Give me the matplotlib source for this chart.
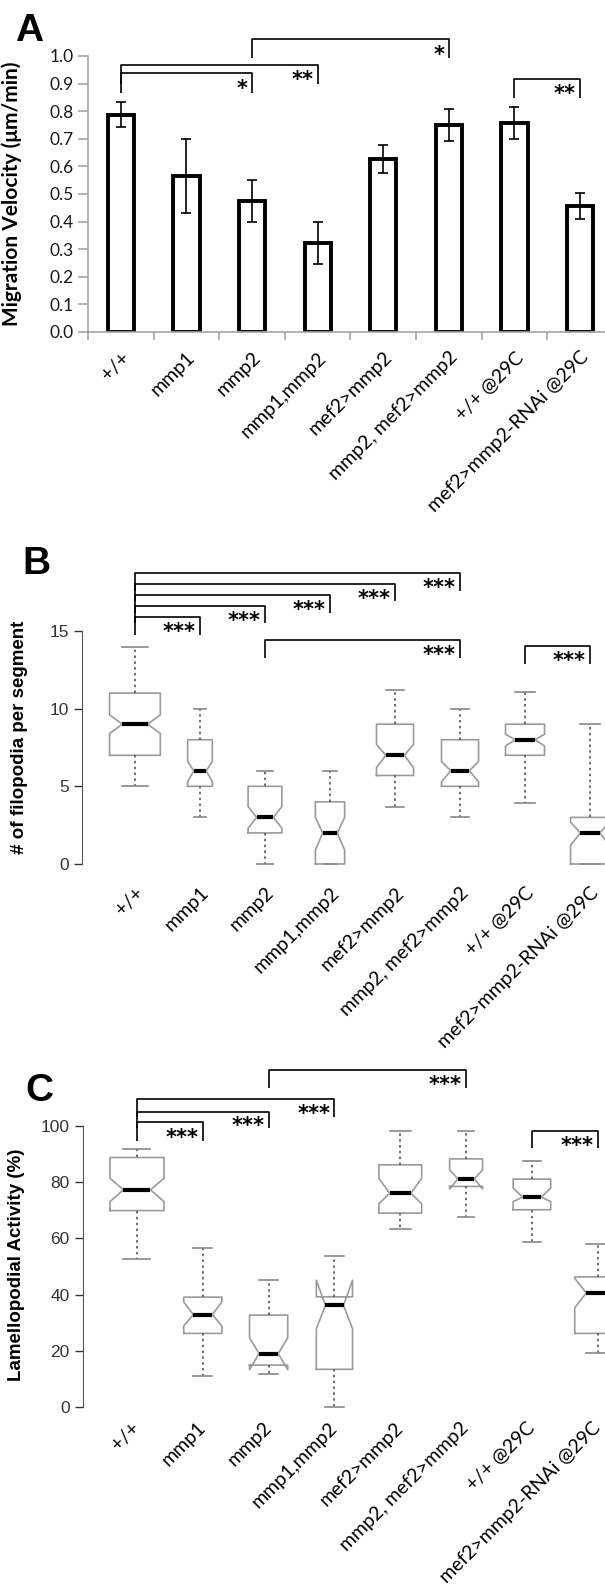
import matplotlib.pyplot as plt
import numpy as np

groups = ["+/+", "mmp1", "mmp2", "mmp1,mmp2", "mef2>mmp2",
          "mmp2, mef2>mmp2", "+/+ @29C", "mef2>mmp2-RNAi @29C"]

# A: migration velocity, mean +/- error
velocity = [0.788, 0.566, 0.475, 0.322, 0.627, 0.749, 0.758, 0.457]
velocity_err = [0.045, 0.135, 0.077, 0.077, 0.050, 0.058, 0.059, 0.047]
# significance brackets: (from, to, top, leg drop, stars)
brackets_a = [(0, 2, 0.937, 0.070, "*"), (0, 3, 0.967, 0.067, "**"),
              (2, 5, 1.060, 0.066, "*"), (6, 7, 0.918, 0.070, "**")]

# B: filopodia per segment (notched boxes)
fil_whislo = [5, 3, 0, 0, 3.7, 3, 3.9, 0]
fil_q1 = [7, 5, 2, 0, 5.7, 5, 7, 0]
fil_cilo = [8.4, 5.3, 2.3, 0.9, 6.2, 5.3, 7.6, 1.2]
fil_med = [9, 6, 3, 2, 7, 6, 8, 2]
fil_cihi = [9.6, 6.6, 3.7, 3.0, 7.7, 6.6, 8.35, 2.7]
fil_q3 = [11, 8, 5, 4, 9, 8, 9, 3]
fil_whishi = [14, 10, 6, 6, 11.2, 10, 11.1, 9]
fil_width = [0.78, 0.38, 0.52, 0.45, 0.57, 0.57, 0.6, 0.6]
brackets_b = [(0, 1, 15.87, 1.15, "***"), (0, 2, 16.6, 1.1, "***"),
              (0, 3, 17.34, 1.17, "***"), (0, 4, 18.04, 1.14, "***"),
              (0, 5, 18.74, 1.14, "***"), (2, 5, 14.4, 1.17, "***"),
              (6, 7, 14.04, 1.14, "***")]

# C: lamellopodial activity (%)
lam_whislo = [52.7, 11.1, 11.7, 0, 63.3, 67.6, 58.6, 19.3]
lam_q1 = [69.9, 26.2, 14.9, 13.4, 69.0, 78.5, 70.2, 26.2]
lam_cilo = [73.1, 28.8, 13.3, 27.8, 72.3, 77.6, 73.1, 35.3]
lam_med = [77.3, 32.9, 19.0, 36.2, 76.1, 81.2, 74.7, 40.6]
lam_cihi = [81.4, 37.4, 24.6, 45.1, 81.4, 84.4, 77.9, 45.8]
lam_q3 = [88.8, 39.1, 32.7, 39.2, 86.2, 88.3, 81.1, 46.3]
lam_whishi = [91.7, 56.6, 45.3, 53.6, 98.3, 98.3, 87.7, 58.0]
lam_width = [0.82, 0.58, 0.58, 0.55, 0.65, 0.5, 0.57, 0.7]
brackets_c = [(0, 1, 101.3, 6.5, "***"), (0, 2, 105.1, 5.9, "***"),
              (0, 3, 109.5, 6.4, "***"), (2, 5, 119.9, 6.5, "***"),
              (6, 7, 98.3, 6.2, "***")]

W, H = 605, 1585
fig = plt.figure(figsize=(W / 100, H / 100), dpi=100)


def axes_px(left, right, bottom, top):
    return fig.add_axes([left / W, 1 - bottom / H, (right - left) / W, (bottom - top) / H])


def draw_brackets(ax, brackets, fs=15):
    for i, j, top, drop, stars in brackets:
        ax.plot([i, i, j, j], [top - drop, top, top, top - drop],
                color="black", lw=1.2, clip_on=False, solid_capstyle="butt")
        ax.annotate(stars, xy=(j, top - drop / 2), xytext=(-3, -0.58 * fs),
                    textcoords="offset points", ha="right", va="baseline",
                    fontsize=fs, fontweight="bold", family="DejaVu Sans")


def set_xlabels(ax, pad, va="top"):
    ax.set_xticks(range(len(groups)))
    ax.set_xticklabels(groups, rotation=45, ha="right", va=va,
                       rotation_mode="anchor", family="Lato", fontsize=14)
    ax.tick_params(axis="x", length=0, pad=pad)


def box_panel(ax, whislo, q1, cilo, med, cihi, q3, whishi, widths):
    stats = []
    for k in range(len(groups)):
        stats.append(dict(whislo=whislo[k], q1=q1[k], cilo=cilo[k], med=med[k],
                          cihi=cihi[k], q3=q3[k], whishi=whishi[k], fliers=[]))
    ax.bxp(stats, positions=range(len(groups)), widths=widths, shownotches=True,
           showfliers=False, manage_ticks=False,
           boxprops=dict(color="#9a9a9a", lw=1.2),
           whiskerprops=dict(color="#555555", lw=1.2, linestyle=(0, (1.5, 2))),
           capprops=dict(color="#888888", lw=1.2),
           medianprops=dict(color="black", lw=3, solid_capstyle="butt"))
    for s in ["top", "right", "bottom"]:
        ax.spines[s].set_visible(False)
    ax.spines["left"].set_color("#555555")
    ax.tick_params(axis="y", colors="#333333", length=6, width=1, direction="out")
    for t in ax.get_yticklabels():
        t.set_family("Liberation Sans")
        t.set_fontsize(12.5)


# ---- Panel A ----
axA = axes_px(88, 605, 332, 28.4)
x = np.arange(len(groups))
axA.bar(x, velocity, width=0.4, color="white", edgecolor="black", linewidth=2.8,
        yerr=velocity_err,
        error_kw=dict(ecolor="black", elinewidth=1.2, capsize=3.3, capthick=1.2))
axA.set_xlim(-0.5, 7.38)
axA.set_ylim(0, 1.1)
axA.set_yticks(np.arange(0, 1.01, 0.1))
axA.set_yticklabels([f"{v:.1f}" for v in np.arange(0, 1.01, 0.1)],
                    family="Lato", fontsize=12.5, color="#1a1a1a")
axA.set_xticks(np.arange(-0.5, 7, 1), minor=True)
axA.tick_params(axis="x", which="minor", length=6, color="#a6a6a6", width=1.2)
axA.tick_params(axis="y", length=7, color="#a6a6a6", width=1.2)
for s in ["top", "right"]:
    axA.spines[s].set_visible(False)
for s in ["left", "bottom"]:
    axA.spines[s].set_color("#a6a6a6")
    axA.spines[s].set_linewidth(1.2)
axA.spines["left"].set_bounds(0, 1.0)
set_xlabels(axA, 12)
draw_brackets(axA, brackets_a)
axA.set_ylabel("Migration Velocity (\u03bcm/min)", family="Lato", fontweight="bold",
               fontsize=15)
axA.yaxis.set_label_coords(-0.128, 0.455)

# ---- Panel B ----
axB = axes_px(82, 605, 870.2, 561.1)
box_panel(axB, fil_whislo, fil_q1, fil_cilo, fil_med, fil_cihi, fil_q3, fil_whishi, fil_width)
axB.set_xlim(-0.815, 7.23)
axB.set_ylim(-0.4, 19.5)
axB.set_yticks([0, 5, 10, 15])
axB.spines["left"].set_bounds(0, 15)
set_xlabels(axB, 10)
draw_brackets(axB, brackets_b)
axB.set_ylabel("# of filopodia per segment", family="Liberation Sans",
               fontweight="bold", fontsize=13.5)
axB.yaxis.set_label_coords(-0.103, 0.431)

# ---- Panel C ----
axC = axes_px(83, 605, 1412.6, 1058.6)
box_panel(axC, lam_whislo, lam_q1, lam_cilo, lam_med, lam_cihi, lam_q3, lam_whishi, lam_width)
axC.set_xlim(-0.82, 7.11)
axC.set_ylim(-2, 124)
axC.set_yticks([0, 20, 40, 60, 80, 100])
axC.spines["left"].set_bounds(0, 100)
set_xlabels(axC, 9, va="center")
draw_brackets(axC, brackets_c)
axC.set_ylabel("Lamellopodial Activity (%)", family="Liberation Sans",
               fontweight="bold", fontsize=13.5)
axC.yaxis.set_label_coords(-0.111, 0.417)

# panel letters
for letter, px, py in [("A", 15, 13), ("B", 22, 546), ("C", 25, 1073)]:
    fig.text(px / W, 1 - py / H, letter, family="Liberation Sans", fontweight="bold",
             fontsize=28, va="top", ha="left")

fig.savefig("out.png", dpi=100)
